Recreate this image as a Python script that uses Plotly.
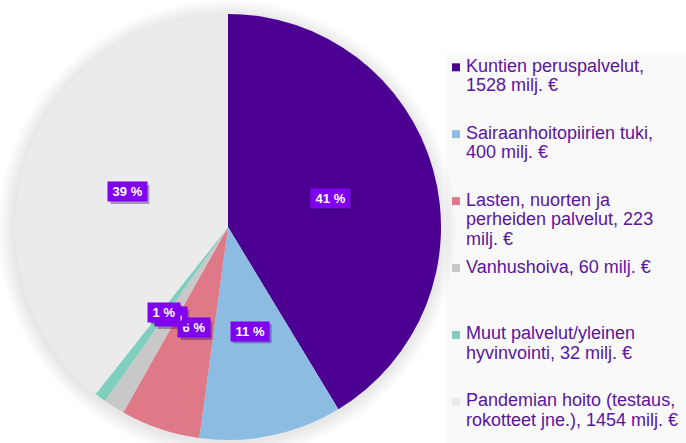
import math
import plotly.graph_objects as go

# ---- data ----
categories = [
    "Kuntien peruspalvelut",
    "Sairaanhoitopiirien tuki",
    "Lasten, nuorten ja perheiden palvelut",
    "Vanhushoiva",
    "Muut palvelut/yleinen hyvinvointi",
    "Pandemian hoito (testaus, rokotteet jne.)",
]
values = [1528, 400, 223, 60, 32, 1454]
legend_labels = [
    "Kuntien peruspalvelut,<br>1528 milj. €",
    "Sairaanhoitopiirien tuki,<br>400 milj. €",
    "Lasten, nuorten ja<br>perheiden palvelut, 223<br>milj. €",
    "Vanhushoiva, 60 milj. €",
    "Muut palvelut/yleinen<br>hyvinvointi, 32 milj. €",
    "Pandemian hoito (testaus,<br>rokotteet jne.), 1454 milj. €",
]
colors = ["#4b0091", "#8dbce3", "#df7987", "#c8c8c8", "#7ecfbe", "#ebebeb"]

# ---- layout constants ----
W, H = 686, 443
cx, cy, R = 228, 227, 213
FONT = "Arial, Liberation Sans, sans-serif"
TEXT_COLOR = "#5a14a0"
LEG_FS = 18
LEG_LINE = 19.5
LBL_FS = 13

fig = go.Figure()
fig.add_trace(go.Pie(
    labels=categories,
    values=values,
    sort=False,
    direction="clockwise",
    rotation=0,
    marker=dict(colors=colors, line=dict(width=0)),
    textinfo="none",
    hoverinfo="label+value+percent",
    showlegend=False,
    domain=dict(x=[(cx - R) / W, (cx + R) / W], y=[(H - cy - R) / H, (H - cy + R) / H]),
))

shapes = []
# legend background panel
shapes.append(dict(type="rect", xref="paper", yref="paper", x0=446 / W, x1=1, y0=0, y1=1 - 53 / H,
                   fillcolor="#f9f9f9", line=dict(width=0), layer="below"))
# soft glow/shadow around the pie
for i in range(8):
    r = R + 2 + 2 * i
    ccy = cy + 2
    shapes.append(dict(type="circle", xref="paper", yref="paper",
                       x0=(cx - 1 - r) / W, x1=(cx - 1 + r) / W,
                       y0=1 - (ccy + r) / H, y1=1 - (ccy - r) / H,
                       fillcolor="rgba(0,0,0,0.010)", line=dict(width=0), layer="below"))

annotations = []
# percentage labels at half radius of each slice
total = sum(values)
cum = 0
for v in values:
    mid = (cum + v / 2) / total
    cum += v
    th = 2 * math.pi * mid
    px = cx + 0.5 * R * math.sin(th)
    py = cy - 0.5 * R * math.cos(th)
    pct = str(round(100 * v / total))
    txt = f"\u2009{pct} %\u2009"
    # box shadow (approximate box size from the text length)
    bw = 0.556 * LBL_FS * len(pct) + (0.278 + 0.889 + 0.4) * LBL_FS + 4
    bh = 19
    sx, sy = px + 2.5, py + 2.5
    shapes.append(dict(type="rect", xref="paper", yref="paper",
                       x0=(sx - bw / 2) / W, x1=(sx + bw / 2) / W,
                       y0=1 - (sy + bh / 2) / H, y1=1 - (sy - bh / 2) / H,
                       fillcolor="rgba(40,0,80,0.35)", line=dict(width=0)))
    annotations.append(dict(x=px / W, y=1 - py / H, xref="paper", yref="paper", text=f"<b>{txt}</b>",
                            showarrow=False, xanchor="center", yanchor="middle", height=15,
                            font=dict(family=FONT, size=LBL_FS, color="white"),
                            bgcolor="#8000f0", borderpad=2))

# manual legend
for i, (lab, col) in enumerate(zip(legend_labels, colors)):
    base = 72.3 + 66.9 * i  # baseline of first line
    sq_c = base - 5
    shapes.append(dict(type="rect", xref="paper", yref="paper",
                       x0=452 / W, x1=460 / W, y0=1 - (sq_c + 4) / H, y1=1 - (sq_c - 4) / H,
                       fillcolor=col, line=dict(width=0)))
    for k, line in enumerate(lab.split("<br>")):
        yc = base + LEG_LINE * k - 6.5
        annotations.append(dict(x=464 / W, y=1 - yc / H, xref="paper", yref="paper", text=line,
                                showarrow=False, xanchor="left", yanchor="middle", align="left",
                                font=dict(family=FONT, size=LEG_FS, color=TEXT_COLOR)))

fig.update_layout(
    width=W, height=H,
    margin=dict(l=0, r=0, t=0, b=0),
    paper_bgcolor="white",
    plot_bgcolor="white",
    shapes=shapes,
    annotations=annotations,
)

fig.write_html("out.html", config={"displayModeBar": False},
               post_script="document.body.style.margin='0px';")
